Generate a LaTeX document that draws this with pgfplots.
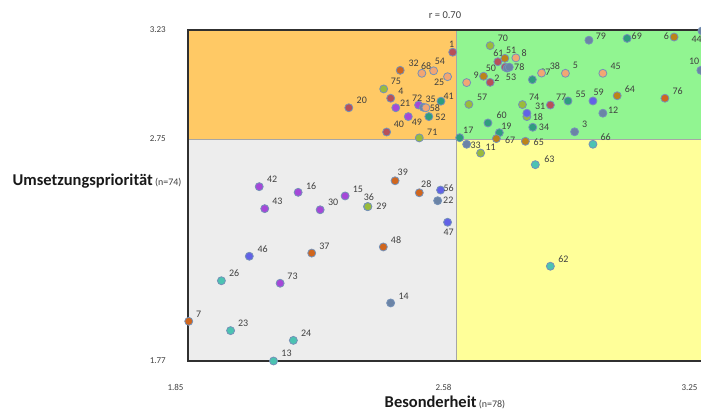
\documentclass[border=0pt]{standalone}
\usepackage{fontspec}
\setmainfont{Carlito}
\usepackage{pgfplots}
\usepackage{pgfplotstable}
\pgfplotsset{compat=1.18}
\definecolor{qor}{HTML}{FFC965}
\definecolor{qgr}{HTML}{91F591}
\definecolor{qye}{HTML}{FFFF99}
\definecolor{qgy}{HTML}{EDEDED}
\definecolor{qline}{HTML}{A6A6A6}
\definecolor{axisc}{HTML}{303030}
\definecolor{tickc}{HTML}{404040}
\definecolor{labc}{HTML}{404040}
\definecolor{ring}{HTML}{7591B8}
\definecolor{cdr}{HTML}{B85058}
\definecolor{cor}{HTML}{D0661E}
\definecolor{csa}{HTML}{F2A673}
\definecolor{cyg}{HTML}{9ABB3B}
\definecolor{cpu}{HTML}{A548D8}
\definecolor{cte}{HTML}{2E9D7E}
\definecolor{cbl}{HTML}{6262E6}
\definecolor{cst}{HTML}{6B84A6}
\definecolor{ccy}{HTML}{4CC3B2}
\definecolor{cgo}{HTML}{BC8418}

% dark red points
\pgfplotstableread{
x y lab dx dy
2.571 3.132 1 -1 8.3
2.288 2.887 20 13 7
2.402 2.929 4 10.3 7.3
2.391 2.780 40 12.3 7.7
2.694 3.090 61 0.6 9
2.714 3.066 50 -14.3 -0.7
2.673 2.999 2 6.7 4
2.837 2.899 77 10.7 7.7
}\tdr
% orange points
\pgfplotstableread{
x y lab dx dy
2.428 3.052 32 13.4 6.6
3.149 2.929 76 12.7 7.3
2.414 2.565 39 7.7 8
2.480 2.512 28 7 8.4
2.382 2.273 48 12.7 7
2.187 2.246 37 12.6 7
1.852 1.945 7 10 7.3
}\tor
% purple points
\pgfplotstableread{
x y lab dx dy
2.416 2.887 21 9.3 5
2.478 2.899 72 -1.4 6.7
2.450 2.848 49 8.7 -6
2.044 2.539 42 13 7.4
2.150 2.514 16 13 6.6
2.278 2.498 15 12.7 7
2.059 2.442 43 12.6 7
2.210 2.437 30 13 7.4
2.101 2.113 73 12.4 7.3
}\tpu
% teal points
\pgfplotstableread{
x y lab dx dy
2.539 2.916 41 7.7 5
2.506 2.848 52 11.7 -0.3
2.788 3.011 27 13 7
3.046 3.193 69 9.7 2.3
2.885 2.917 55 12.7 7
2.667 2.820 60 13.7 7.7
2.789 2.801 34 11.3 0.3
2.698 2.777 19 7 6.7
2.590 2.755 17 8.6 7.4
}\tte
% steel blue points
\pgfplotstableread{
x y lab dx dy
2.491 2.889 35 7.4 8.3
2.719 3.062 53 4 -9.7
2.725 3.066 78 10 0
2.942 3.185 79 12 4
3.250 3.226 44 -5.3 -8
3.247 3.052 10 -6.7 8.6
2.980 2.863 12 10.3 3.3
2.903 2.781 3 10 7.7
2.609 2.726 33 9 -0.7
2.530 2.477 22 10.6 0.4
2.402 2.026 14 13 7
}\tst
% salmon points
\pgfplotstableread{
x y lab dx dy
2.498 2.887 58 9 -0.6
2.487 3.039 68 4.3 7
2.519 3.050 54 6.3 9
2.557 3.024 25 -8.4 -5.6
2.743 3.107 8 8.3 4.3
2.609 2.998 9 9.6 7.4
2.813 3.040 38 13.3 6.7
2.878 3.039 5 10 7.6
2.980 3.039 45 12.7 7
}\tsa
% gold-brown points
\pgfplotstableread{
x y lab dx dy
2.713 3.105 51 6.3 7.6
2.655 3.026 {} 0 0
3.174 3.199 6 -7.7 1
3.019 2.940 64 12.7 7
2.690 2.751 67 13.7 -1.6
2.769 2.739 65 13.4 -1
}\tgo
% cyan points
\pgfplotstableread{
x y lab dx dy
2.953 2.726 66 12.7 7
2.796 2.636 63 14 5.7
2.837 2.188 62 13 7.3
2.339 2.451 29 14 0
1.941 2.124 26 12.7 7.4
1.966 1.904 23 12.6 7.4
2.137 1.861 24 12.7 7
2.083 1.770 13 13 7.4
}\tcy
% yellow-green points
\pgfplotstableread{
x y lab dx dy
2.383 2.970 75 12.3 7.3
2.480 2.754 71 13 6
2.673 3.161 70 12.7 7.7
2.615 2.902 57 13.3 7
2.761 2.901 74 11.7 7.4
2.773 2.848 18 11 -0.6
2.647 2.687 11 10 5.7
2.340 2.451 36 1 9.4
}\tyg
% blue points
\pgfplotstableread{
x y lab dx dy
2.953 2.917 59 5.7 8.3
2.773 2.863 31 13.3 7.3
2.538 2.524 56 8 1.7
2.557 2.382 47 1 -10.4
2.017 2.232 46 13.4 7
}\tbl

\pgfplotsset{
  pts/.style={only marks, mark=*, mark size=4pt,
    mark options={fill=#1, draw=ring, line width=0.8pt},
    point meta=explicit symbolic,
    nodes near coords,
    visualization depends on={\thisrow{dx}\as\dx},
    visualization depends on={\thisrow{dy}\as\dy},
    every node near coord/.style={anchor=center, xshift=\dx*1pt, yshift=\dy*1pt, inner sep=0pt, font=\fontsize{10}{12}\selectfont, text=labc},
  },
}

\begin{document}
\begin{tikzpicture}
\begin{axis}[
  set layers=standard,
  at={(0,0)}, anchor=south west,
  width=514pt, height=331pt, scale only axis,
  xmin=1.85, xmax=3.25, ymin=1.77, ymax=3.23,
  clip=false,
  axis line style={draw=axisc, line width=1.4pt},
  xtick={1.85,2.58,3.25}, xticklabels={1.85,2.58,3.25},
  ytick={1.77,2.75,3.23}, yticklabels={1.77,2.75,3.23},
  major tick length=0pt,
  /pgf/number format/assume math mode=true,
  tick label style={font=\fontsize{9}{10}\selectfont, text=tickc},
  xticklabel style={anchor=center, xshift=-12.5pt, yshift=-26.5pt},
  yticklabel style={anchor=east, inner sep=0pt, xshift=-22pt},
  title={r = 0.70},
  every axis title/.style={at={(axis description cs:0.5,1)}, anchor=base, yshift=11.3pt, font=\fontsize{10.5}{12}\selectfont, text=tickc},
  xlabel={{\fontsize{16.5}{19}\selectfont\bfseries Besonderheit} {\fontsize{10}{12}\selectfont\color{tickc}(n=78)}},
  every axis x label/.style={at={(axis description cs:0.5,0)}, anchor=base, yshift=-46.8pt, text=black!90},
  ylabel={{\fontsize{16.5}{19}\selectfont\bfseries Umsetzungspriorität} {\fontsize{10}{12}\selectfont\color{tickc}(n=74)}},
  every axis y label/.style={at={(axis description cs:0,0.5296)}, anchor=base east, xshift=-3pt, text=black!90},
]
\addplot[on layer=axis background, fill=qgy, draw=qline, line width=0.6pt, forget plot] coordinates {(1.85,1.77) (2.58,1.77) (2.58,2.75) (1.85,2.75) (1.85,1.77)};
\addplot[on layer=axis background, fill=qye, draw=qline, line width=0.6pt, forget plot] coordinates {(2.58,1.77) (3.25,1.77) (3.25,2.75) (2.58,2.75) (2.58,1.77)};
\addplot[on layer=axis background, fill=qgr, draw=qline, line width=0.6pt, forget plot] coordinates {(2.58,2.75) (3.25,2.75) (3.25,3.23) (2.58,3.23) (2.58,2.75)};
\addplot[on layer=axis background, fill=qor, draw=qline, line width=0.6pt, forget plot] coordinates {(1.85,2.75) (2.58,2.75) (2.58,3.23) (1.85,3.23) (1.85,2.75)};

\addplot[pts=cdr] table[x=x, y=y, meta=lab] {\tdr};
\addplot[pts=cor] table[x=x, y=y, meta=lab] {\tor};
\addplot[pts=cpu] table[x=x, y=y, meta=lab] {\tpu};
\addplot[pts=cte] table[x=x, y=y, meta=lab] {\tte};
\addplot[pts=cst] table[x=x, y=y, meta=lab] {\tst};
\addplot[pts=csa] table[x=x, y=y, meta=lab] {\tsa};
\addplot[pts=cgo] table[x=x, y=y, meta=lab] {\tgo};
\addplot[pts=ccy] table[x=x, y=y, meta=lab] {\tcy};
\addplot[pts=cyg] table[x=x, y=y, meta=lab] {\tyg};
\addplot[pts=cbl] table[x=x, y=y, meta=lab] {\tbl};
\end{axis}
\pgfresetboundingbox
\useasboundingbox (-188pt,-51pt) rectangle (513pt,361pt);
\end{tikzpicture}
\end{document}
